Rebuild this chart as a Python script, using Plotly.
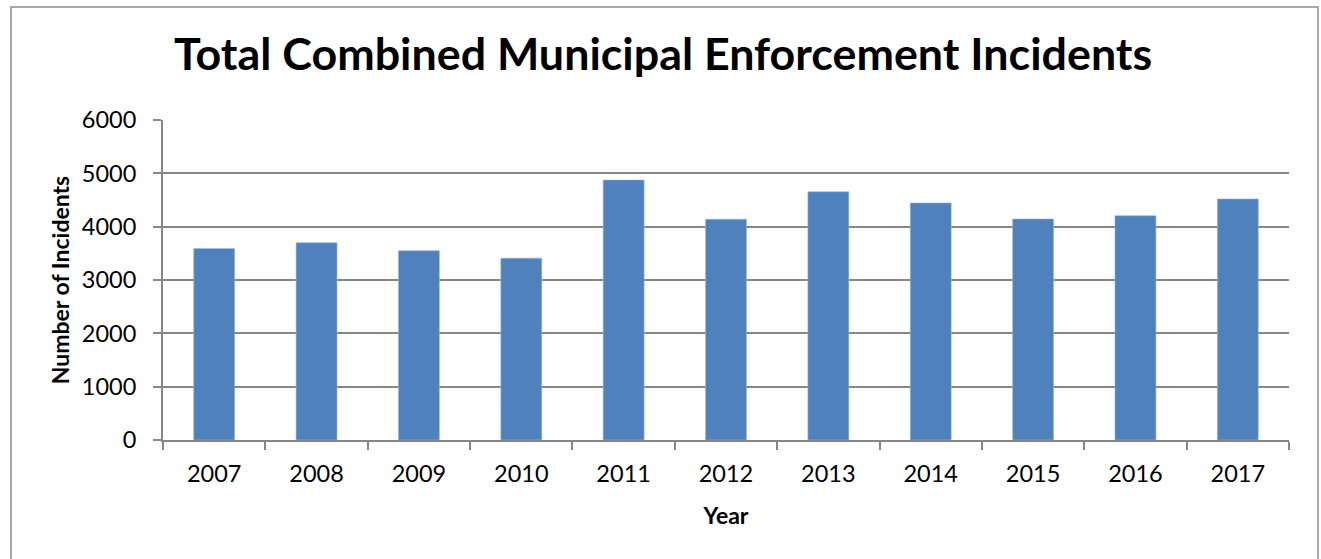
import plotly.graph_objects as go

# Yearly totals of municipal enforcement incidents
years = ["2007", "2008", "2009", "2010", "2011", "2012",
         "2013", "2014", "2015", "2016", "2017"]
incidents = [3590, 3700, 3550, 3410, 4875, 4140,
             4655, 4445, 4145, 4205, 4520]

y_ticks = [0, 1000, 2000, 3000, 4000, 5000, 6000]

BAR_BLUE = "#4F81BD"
GRID_GREY = "#868686"
FONT = "Lato"

fig = go.Figure(
    go.Bar(
        x=years,
        y=incidents,
        marker=dict(color=BAR_BLUE, line=dict(color="#9DB9DD", width=0.6)),
        width=0.4,
    )
)

fig.update_layout(
    width=1321,
    height=559,
    margin=dict(l=163, r=32, t=120, b=119),
    paper_bgcolor="white",
    plot_bgcolor="white",
    showlegend=False,
    font=dict(family=FONT, color="#000000"),
    title=dict(
        text="<b>Total Combined Municipal Enforcement Incidents</b>",
        font=dict(family=FONT, size=44.8, color="#000000"),
        x=0.502,
        xanchor="center",
        yref="container",
        y=0.902,
        yanchor="middle",
    ),
)

fig.update_xaxes(
    type="category",
    showline=True,
    linecolor=GRID_GREY,
    linewidth=1.8,
    ticks="outside",
    tickson="boundaries",
    ticklen=8,
    tickcolor=GRID_GREY,
    tickwidth=1.8,
    tickfont=dict(family=FONT, size=23.5, color="#000000"),
    ticklabelstandoff=12,
    showgrid=False,
    title=dict(
        text="<b>Year</b>",
        font=dict(family=FONT, size=23, color="#000000"),
        standoff=22,
    ),
)

fig.update_yaxes(
    range=[0, 6000],
    tickvals=y_ticks,
    showline=True,
    linecolor=GRID_GREY,
    linewidth=1.8,
    ticks="outside",
    ticklen=8,
    tickcolor=GRID_GREY,
    tickwidth=1.8,
    tickfont=dict(family=FONT, size=23.5, color="#000000"),
    ticklabelstandoff=12,
    showgrid=True,
    gridcolor=GRID_GREY,
    gridwidth=1.8,
    zeroline=False,
    title=dict(
        text="<b>Number of Incidents</b>",
        font=dict(family=FONT, size=23, color="#000000"),
        standoff=6,
    ),
)

# Outer frame around the whole chart
fig.add_shape(
    type="rect",
    xref="paper", yref="paper",
    x0=(11 - 163) / 1126, x1=(1318 - 163) / 1126,
    y0=(440 - 570) / 320, y1=(440 - 7) / 320,
    line=dict(color="#8C8C8C", width=1.5),
    fillcolor="rgba(0,0,0,0)",
    layer="below",
)

fig.write_html("out.html")
